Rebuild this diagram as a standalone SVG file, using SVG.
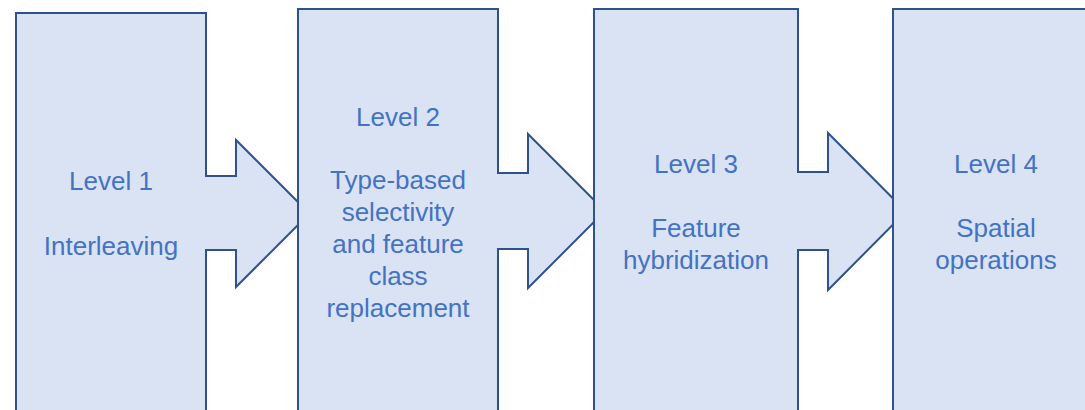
<svg xmlns="http://www.w3.org/2000/svg" width="1085" height="410" viewBox="0 0 1085 410">
  <style>
    .stage { fill: #DAE3F3; stroke: #2F528F; stroke-width: 2; stroke-linejoin: miter; }
    .label { font-family: "Liberation Sans", Arial, sans-serif; font-size: 26px; fill: #4472C4; text-anchor: middle; }
  </style>
  <rect width="1085" height="410" fill="#FFFFFF"/>

  <!-- Each stage is a right-arrow callout; later stages overlap the previous arrow tip -->
  <g id="level1">
    <path class="stage" d="M16,13 H206 V176 H236 V140 L309.5,213.5 L236,287 V250 H206 V430 H16 Z"/>
    <text class="label" x="111" y="190">Level 1</text>
    <text class="label" x="111" y="255">Interleaving</text>
  </g>

  <g id="level2">
    <path class="stage" d="M298,9 H498 V173 H528 V134 L605,211 L528,288 V249 H498 V430 H298 Z"/>
    <text class="label" x="398" y="126">Level 2</text>
    <text class="label" x="398" y="189">Type-based</text>
    <text class="label" x="398" y="221">selectivity</text>
    <text class="label" x="398" y="253">and feature</text>
    <text class="label" x="398" y="285">class</text>
    <text class="label" x="398" y="317">replacement</text>
  </g>

  <g id="level3">
    <path class="stage" d="M594,9 H798 V172 H828 V133 L906,211.5 L828,290 V250 H798 V430 H594 Z"/>
    <text class="label" x="696" y="173">Level 3</text>
    <text class="label" x="696" y="237">Feature</text>
    <text class="label" x="696" y="269">hybridization</text>
  </g>

  <g id="level4">
    <path class="stage" d="M893,9 H1100 V430 H893 Z"/>
    <text class="label" x="996" y="173">Level 4</text>
    <text class="label" x="996" y="237">Spatial</text>
    <text class="label" x="996" y="269">operations</text>
  </g>
</svg>
